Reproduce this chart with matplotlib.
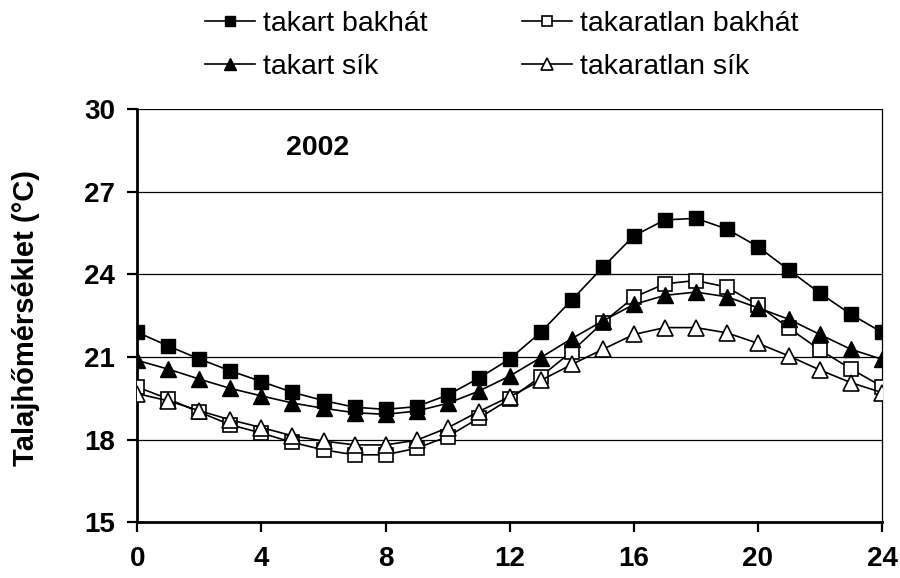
import matplotlib
matplotlib.use("Agg")
import matplotlib.pyplot as plt

hours = list(range(25))
takart_bakhat = [21.90, 21.40, 20.93, 20.50, 20.11, 19.72, 19.42, 19.18, 19.10,
                 19.20, 19.62, 20.23, 20.93, 21.90, 23.07, 24.26, 25.40,
                 25.98, 26.04, 25.65, 25.01, 24.16, 23.32, 22.55, 21.90]
takaratlan_bakhat = [19.91, 19.48, 19.00, 18.54, 18.24, 17.90, 17.63, 17.45, 17.45,
                     17.69, 18.11, 18.78, 19.47, 20.29, 21.20, 22.25, 23.17,
                     23.66, 23.78, 23.54, 22.89, 22.05, 21.26, 20.57, 19.93]
takart_sik = [20.88, 20.56, 20.20, 19.86, 19.59, 19.33, 19.14, 18.98, 18.92,
              19.04, 19.32, 19.76, 20.31, 20.98, 21.67, 22.31, 22.91,
              23.24, 23.36, 23.19, 22.79, 22.37, 21.82, 21.28, 20.92]
takaratlan_sik = [19.67, 19.41, 19.05, 18.72, 18.44, 18.14, 17.95, 17.81, 17.81,
                  17.98, 18.43, 19.02, 19.56, 20.15, 20.73, 21.28, 21.82,
                  22.07, 22.07, 21.88, 21.50, 21.04, 20.53, 20.07, 19.71]
labels = ["takart bakhát", "takart sík", "takaratlan bakhát", "takaratlan sík"]
xticks = [0, 4, 8, 12, 16, 20, 24]
yticks = [15, 18, 21, 24, 27, 30]

plt.rcParams['font.family'] = ['Liberation Sans', 'DejaVu Sans']

fig = plt.figure(figsize=(9, 5.78), dpi=100)
ax = fig.add_axes([0.1526, 0.0964, 0.98 - 0.1526, 0.811 - 0.0964])

lw = 1.2
ms = 9.5
l1, = ax.plot(hours, takart_bakhat, color='black', lw=lw, marker='s', ms=ms,
              mfc='black', mec='black', mew=1.0, label=labels[0], zorder=5)
l3, = ax.plot(hours, takart_sik, color='black', lw=lw, marker='^', ms=ms + 2,
              mfc='black', mec='black', mew=1.0, label=labels[1], zorder=4)
l2, = ax.plot(hours, takaratlan_bakhat, color='black', lw=lw, marker='s', ms=ms,
              mfc='white', mec='black', mew=1.2, label=labels[2], zorder=3)
l4, = ax.plot(hours, takaratlan_sik, color='black', lw=lw, marker='^', ms=ms + 2,
              mfc='white', mec='black', mew=1.2, label=labels[3], zorder=3.5)

ax.set_xlim(0, 24)
ax.set_ylim(15, 30)
ax.set_xticks(xticks)
ax.set_yticks(yticks)
ax.set_xticklabels([str(t) for t in xticks], fontsize=20, fontweight='bold')
ax.set_yticklabels([str(t) for t in yticks], fontsize=20, fontweight='bold')
ax.tick_params(axis='both', direction='out', length=7, width=1.6)
ax.tick_params(axis='x', pad=10)
ax.tick_params(axis='y', pad=9)

for y in yticks[1:]:
    ax.axhline(y, color='black', lw=0.9, zorder=1)

for s in ['left', 'bottom']:
    ax.spines[s].set_linewidth(2.0)
ax.spines['right'].set_linewidth(0.9)
ax.spines['top'].set_visible(False)

ax.text(5.81, 28.6, "2002", fontsize=20.5, fontweight='bold', ha='center', va='center')

fig.text(0.029, 0.45, "Talajhőmérséklet (°C)", rotation=90, fontsize=21,
         fontweight='bold', ha='center', va='center')

leg = fig.legend(handles=[l1, l3, l2, l4], loc='upper left', ncol=2,
                 bbox_to_anchor=(0.215, 1.0), frameon=False, fontsize=20.5,
                 handlelength=1.75, handletextpad=0.3, columnspacing=3.3,
                 labelspacing=0.58, markerscale=0.7, borderaxespad=0)

fig.savefig("out.png", dpi=100)
